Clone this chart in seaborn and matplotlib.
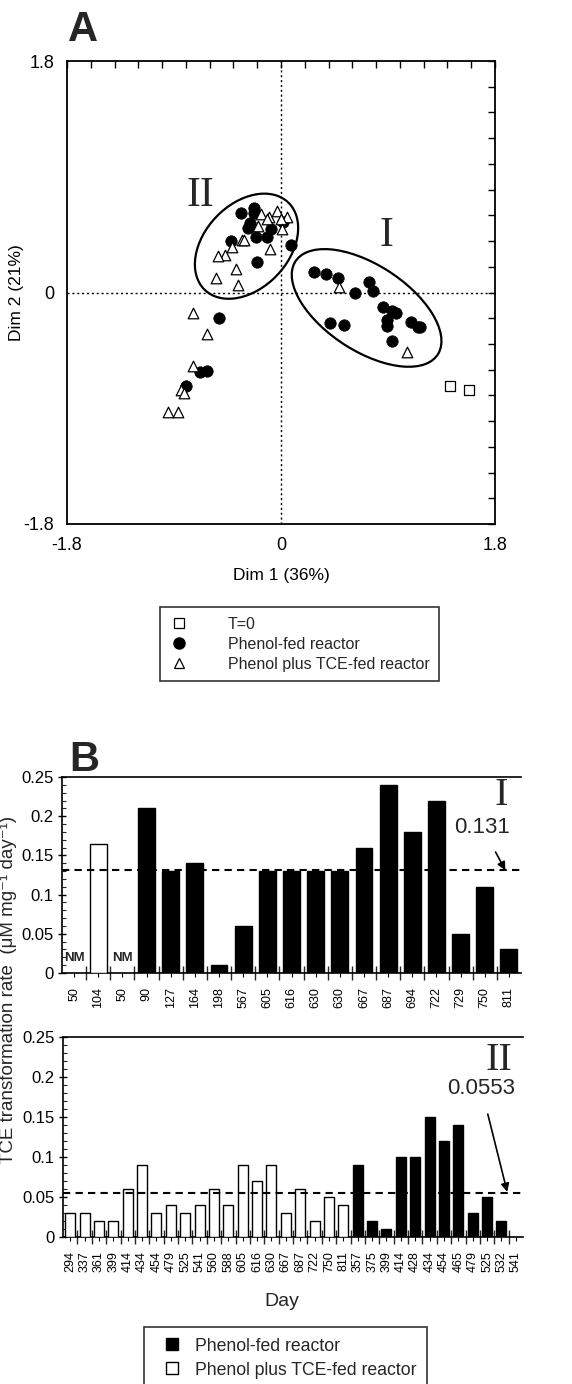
import numpy as np
import pandas as pd
import matplotlib
matplotlib.use("Agg")
import matplotlib.pyplot as plt
import seaborn as sns
from matplotlib.patches import Ellipse
from matplotlib.lines import Line2D

sns.set_theme(style="white")
plt.rcParams["font.family"] = ["Liberation Sans", "DejaVu Sans"]

# ---------------- Panel A data (ordination scores) ----------------
t0_dim1 = [1.42, 1.58]
t0_dim2 = [-0.73, -0.76]

phenol_dim1 = [-0.34, -0.23, -0.23, -0.26, -0.28, -0.42, -0.21, -0.12, -0.08, 0.02, 0.08, -0.20,
               0.28, 0.38, 0.48, 0.62, 0.74, 0.77, 0.86, 0.93, 0.97, 0.89, 0.89, 1.09, 1.15, 1.17,
               0.41, 0.53, 0.93,
               -0.52, -0.68, -0.62, -0.80]
phenol_dim2 = [0.62, 0.66, 0.62, 0.54, 0.50, 0.40, 0.43, 0.43, 0.49, 0.55, 0.37, 0.24,
               0.16, 0.14, 0.11, 0.00, 0.08, 0.01, -0.11, -0.14, -0.16, -0.21, -0.26, -0.23, -0.27, -0.27,
               -0.24, -0.25, -0.38,
               -0.20, -0.62, -0.61, -0.73]

tce_dim1 = [-0.17, -0.10, -0.12, -0.03, 0.05, 0.00, 0.01, -0.19, -0.33, -0.31, -0.41, -0.47, -0.53,
            -0.09, -0.38, -0.55, -0.36, 0.49, 1.06, -0.74, -0.62, -0.74, -0.84, -0.82, -0.95, -0.87]
tce_dim2 = [0.61, 0.59, 0.57, 0.63, 0.59, 0.57, 0.49, 0.52, 0.41, 0.41, 0.35, 0.29, 0.28,
            0.34, 0.18, 0.11, 0.06, 0.04, -0.46, -0.16, -0.32, -0.57, -0.76, -0.78, -0.93, -0.93]

# ---------------- Panel B data ----------------
days_I = ["50", "104", "50", "90", "127", "164", "198", "567", "605", "616", "630", "630",
          "667", "687", "694", "722", "729", "750", "811"]
rate_I = [np.nan, 0.165, np.nan, 0.21, 0.13, 0.14, 0.01, 0.06, 0.13, 0.13, 0.13, 0.13,
          0.16, 0.24, 0.18, 0.22, 0.05, 0.11, 0.03]
reactor_I = ["Phenol plus TCE-fed reactor"] * 2 + ["Phenol-fed reactor"] * 17
mean_I = 0.131

days_II = ["294", "337", "361", "399", "414", "434", "454", "479", "525", "541", "560", "588",
           "605", "616", "630", "667", "687", "722", "750", "811",
           "357", "375", "399", "414", "428", "434", "454", "465", "479", "525", "532", "541"]
rate_II = [0.03, 0.03, 0.02, 0.02, 0.06, 0.09, 0.03, 0.04, 0.03, 0.04, 0.06, 0.04,
           0.09, 0.07, 0.09, 0.03, 0.06, 0.02, 0.05, 0.04,
           0.09, 0.02, 0.01, 0.10, 0.10, 0.15, 0.12, 0.14, 0.03, 0.05, 0.02, np.nan]
reactor_II = ["Phenol plus TCE-fed reactor"] * 20 + ["Phenol-fed reactor"] * 12
mean_II = 0.0553

W, H = 572, 1384
fig = plt.figure(figsize=(W / 100, H / 100), dpi=100)


def fax(l, t, r, b):
    return fig.add_axes([l / W, 1 - b / H, (r - l) / W, (b - t) / H])


# ================= Panel A =================
axA = fax(67, 61, 495, 524)
sns.scatterplot(x=phenol_dim1, y=phenol_dim2, ax=axA, marker="o", s=68, color="black",
                edgecolor="black", linewidth=0.5, zorder=3)
sns.scatterplot(x=tce_dim1, y=tce_dim2, ax=axA, marker="^", s=58, color="white",
                edgecolor="black", linewidth=0.9, zorder=4)
sns.scatterplot(x=t0_dim1, y=t0_dim2, ax=axA, marker="s", s=62, color="white",
                edgecolor="black", linewidth=0.9, zorder=4)
axA.axhline(0, color="black", lw=1, ls=(0, (1.5, 2)), zorder=1)
axA.axvline(0, color="black", lw=1, ls=(0, (1.5, 2)), zorder=1)
axA.add_patch(Ellipse((-0.29, 0.36), 0.98, 0.68, angle=40, fill=False, ec="black", lw=1.6, zorder=5))
axA.add_patch(Ellipse((0.72, -0.12), 1.40, 0.68, angle=-30, fill=False, ec="black", lw=1.6, zorder=5))
axA.text(-0.68, 0.75, "II", fontsize=30, family=["Liberation Serif", "DejaVu Serif"],
         ha="center", va="center")
axA.text(0.89, 0.44, "I", fontsize=30, family=["Liberation Serif", "DejaVu Serif"],
         ha="center", va="center")
axA.set_xlim(-1.8, 1.8)
axA.set_ylim(-1.8, 1.8)
tks = np.round(np.arange(-1.8, 1.81, 0.2), 1)
lab = [("0" if abs(v) < 1e-9 else f"{v:g}") if (abs(v) < 1e-9 or abs(abs(v) - 1.8) < 1e-9) else "" for v in tks]
axA.set_xticks(tks)
axA.set_xticklabels(lab)
axA.set_yticks(tks)
axA.set_yticklabels(lab)
axA.tick_params(direction="in", length=5, width=1, top=True, right=True, labelsize=13,
                colors="black", pad=9)
for s in axA.spines.values():
    s.set_color("black")
    s.set_linewidth(1.3)
axA.set_xlabel("Dim 1 (36%)", fontsize=12.5, color="black")
axA.xaxis.set_label_coords(0.5, -0.112)
axA.xaxis.label.set_va("center")
axA.set_ylabel("Dim 2 (21%)", fontsize=12.5, color="black")
axA.yaxis.set_label_coords(-0.117, 0.5)
axA.yaxis.label.set_va("center")

fig.text(83 / W, 1 - 30 / H, "A", fontsize=30, fontweight="bold", ha="center", va="center")

handlesA = [
    Line2D([], [], ls="none", marker="s", ms=7, mfc="white", mec="black", mew=0.9),
    Line2D([], [], ls="none", marker="o", ms=8, mfc="black", mec="black"),
    Line2D([], [], ls="none", marker="^", ms=7, mfc="white", mec="black", mew=0.9),
]
legA = fig.legend(handlesA, ["T=0", "Phenol-fed reactor", "Phenol plus TCE-fed reactor"],
                  loc="upper left", bbox_to_anchor=(160 / W, 1 - 607 / H), fontsize=11.5,
                  frameon=True, fancybox=False, edgecolor="black", handletextpad=2.45,
                  labelspacing=0.32, borderpad=0.6, handlelength=1.2, borderaxespad=0)
legA.get_frame().set_linewidth(1.2)

# ================= Panel B =================
palette = {"Phenol-fed reactor": "black", "Phenol plus TCE-fed reactor": "white"}
hue_order = ["Phenol-fed reactor", "Phenol plus TCE-fed reactor"]


def bar_panel(ax, days, rates, reactors, mean, roman, mean_txt, txt_xy, arrow_xy, roman_xy, nm=()):
    df = pd.DataFrame({"pos": np.arange(len(days)), "rate": rates, "reactor": reactors})
    sns.barplot(data=df, x="pos", y="rate", hue="reactor", hue_order=hue_order, palette=palette,
                dodge=False, width=0.7, edgecolor="black", linewidth=1.0, errorbar=None,
                legend=False, ax=ax, zorder=3)
    n = len(days)
    ax.set_xlim(-0.5, n - 0.5)
    ax.set_ylim(0, 0.25)
    ax.axhline(mean, color="black", lw=1.5, ls=(0, (3.5, 2.5)), zorder=4)
    ax.set_yticks([0, 0.05, 0.1, 0.15, 0.2, 0.25])
    ax.set_yticklabels(["0", "0.05", "0.1", "0.15", "0.2", "0.25"])
    ax.set_yticks(np.arange(0, 0.2501, 0.01), minor=True)
    ax.set_xticks(np.arange(n))
    ax.set_xticklabels(days, rotation=90, fontsize=9)
    ax.set_xticks(np.arange(n - 1) + 0.5, minor=True)
    ax.tick_params(axis="y", which="major", direction="inout", length=6, width=1, labelsize=12,
                   colors="black", pad=3, left=True)
    ax.tick_params(axis="y", which="minor", direction="in", length=3, width=0.8, left=True)
    ax.tick_params(axis="x", which="major", direction="out", length=3, width=0.8, pad=7,
                   colors="black", bottom=True)
    ax.tick_params(axis="x", which="minor", direction="inout", length=10, width=1, bottom=True)
    ax.set_xlabel("")
    ax.set_ylabel("")
    ax.spines["right"].set_visible(False)
    for k in ("left", "bottom", "top"):
        ax.spines[k].set_color("black")
        ax.spines[k].set_linewidth(1.2)
    for i in nm:
        ax.text(i, 0.019, "NM", fontsize=9.5, fontweight="bold", ha="center", va="center")
    ax.text(*roman_xy, roman, fontsize=29, family=["Liberation Serif", "DejaVu Serif"],
            ha="center", va="center")
    ax.annotate(mean_txt, xy=arrow_xy, xytext=txt_xy, fontsize=16, ha="center", va="center",
                arrowprops=dict(arrowstyle="-|>", color="black", lw=1.2, shrinkA=9, shrinkB=0,
                                mutation_scale=12))


axB1 = fax(62, 777, 521, 973)
bar_panel(axB1, days_I, rate_I, reactor_I, mean_I, "I", "0.131",
          txt_xy=(16.9, 0.186), arrow_xy=(17.85, 0.131), roman_xy=(17.7, 0.226), nm=(0, 2))

axB2 = fax(63, 1037, 523, 1237)
bar_panel(axB2, days_II, rate_II, reactor_II, mean_II, "II", "0.0553",
          txt_xy=(28.6, 0.186), arrow_xy=(30.4, 0.0565), roman_xy=(29.8, 0.22))

fig.text(282 / W, 1 - 1302 / H, "Day", fontsize=14, ha="center", va="center")
fig.text(9 / W, 1 - 990 / H, "TCE transformation rate  (\u03bcM mg\u207b\u00b9 day\u207b\u00b9)",
         fontsize=13.5, rotation=90, ha="center", va="center")
fig.text(84 / W, 1 - 760 / H, "B", fontsize=30, fontweight="bold", ha="center", va="center")

handlesB = [Line2D([], [], ls="none", marker="s", ms=9, mfc="black", mec="black", mew=1),
            Line2D([], [], ls="none", marker="s", ms=9, mfc="white", mec="black", mew=1)]
legB = fig.legend(handlesB, ["Phenol-fed reactor", "Phenol plus TCE-fed reactor"],
                  loc="upper left", bbox_to_anchor=(144 / W, 1 - 1327 / H), fontsize=12.7,
                  frameon=True, fancybox=False, edgecolor="black", handletextpad=0.3,
                  labelspacing=0.4, borderpad=0.6, handlelength=2.0,
                  borderaxespad=0)
legB.get_frame().set_linewidth(1.2)

fig.savefig("out.png", dpi=100, facecolor="white")
